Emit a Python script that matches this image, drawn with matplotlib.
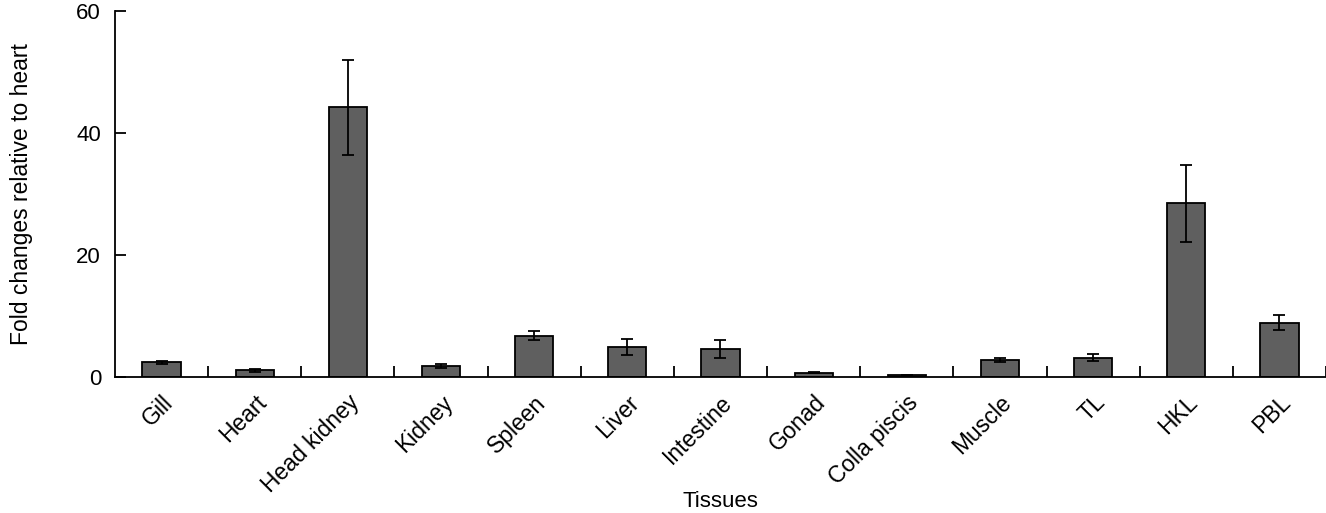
import numpy as np
import matplotlib
matplotlib.use('Agg')
import matplotlib.pyplot as plt

plt.rcParams['font.family'] = ['Liberation Sans', 'DejaVu Sans']

# tissue expression data
tissues = ['Gill', 'Heart', 'Head kidney', 'Kidney', 'Spleen', 'Liver', 'Intestine',
           'Gonad', 'Colla piscis', 'Muscle', 'TL', 'HKL', 'PBL']
fold = [2.4, 1.1, 44.2, 1.8, 6.8, 4.9, 4.6, 0.7, 0.3, 2.8, 3.2, 28.5, 8.9]
err = [0.3, 0.2, 7.8, 0.3, 0.8, 1.3, 1.5, 0.1, 0.05, 0.4, 0.6, 6.3, 1.2]
yticks = [0, 20, 40, 60]

fig = plt.figure(figsize=(13.26, 5.13), dpi=100)
ax = fig.add_axes([0.0867, 0.265, 0.9133, 0.7136])

x = np.arange(len(tissues))
ax.bar(x, fold, width=0.41, color='#5f5f5f', edgecolor='black', linewidth=1.3,
       yerr=err, capsize=4.5, error_kw=dict(elinewidth=1.3, capthick=1.3, ecolor='black'))

ax.set_xlim(-0.5, len(tissues) - 0.5)
ax.set_ylim(0, 60)
ax.set_yticks(yticks)
ax.set_xticks(x)
ax.set_xticklabels(tissues, rotation=45, ha='right', rotation_mode='anchor')
ax.set_xticks(np.arange(len(tissues)) + 0.5, minor=True)

ax.spines['top'].set_visible(False)
ax.spines['right'].set_visible(False)
ax.spines['left'].set_linewidth(1.3)
ax.spines['bottom'].set_linewidth(1.3)

ax.tick_params(axis='y', direction='in', length=8, width=1.3, labelsize=16, pad=10)
ax.tick_params(axis='x', which='major', length=0, labelsize=16.5, pad=10)
ax.tick_params(axis='x', which='minor', direction='in', length=8, width=1.3)

ax.set_ylabel('Fold changes relative to heart', fontsize=16.5)
ax.set_xlabel('Tissues', fontsize=16)
ax.yaxis.set_label_coords(-0.068, 0.5)
ax.xaxis.set_label_coords(0.5, -0.31)

fig.savefig('out.png', dpi=100)
